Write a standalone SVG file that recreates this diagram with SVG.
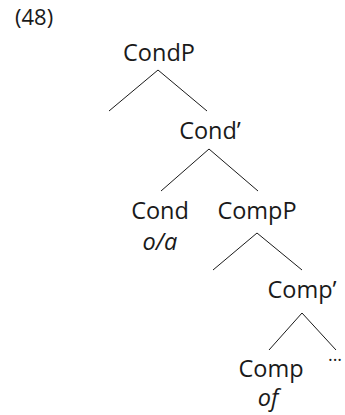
<svg xmlns="http://www.w3.org/2000/svg" width="345" height="415" viewBox="0 0 345 415">
<style>
text{font-family:"Open Sans","DejaVu Sans",sans-serif;font-size:23.5px;fill:#1a1a1a;text-anchor:middle}
.it{font-style:italic}
line{stroke:#1a1a1a;stroke-width:1}
</style>
<rect width="345" height="415" fill="#fff"/>
<text x="15" y="25" style="text-anchor:start;font-size:22px">(48)</text>
<g id="CondP"><text x="159" y="61">CondP</text></g>
<g id="CondBar"><text x="210" y="139">Cond’</text></g>
<g id="Cond"><text x="160" y="219">Cond</text><text class="it" x="160" y="250">o/a</text></g>
<g id="CompP"><text x="257" y="219">CompP</text></g>
<g id="CompBar"><text x="302" y="298">Comp’</text></g>
<g id="Comp"><text x="271" y="377">Comp</text><text class="it" x="268" y="406">of</text></g>
<g id="Ellipsis"><text x="335" y="361" style="font-size:18px">...</text></g>
<g id="connectors">
<line x1="158" y1="70" x2="109" y2="111"/>
<line x1="158" y1="70" x2="207" y2="111"/>
<line x1="209" y1="149" x2="161" y2="191"/>
<line x1="209" y1="149" x2="258" y2="191"/>
<line x1="257" y1="233" x2="213" y2="270"/>
<line x1="257" y1="233" x2="302" y2="270"/>
<line x1="302" y1="313" x2="269" y2="350"/>
<line x1="302" y1="313" x2="336" y2="350"/>
</g>
</svg>
